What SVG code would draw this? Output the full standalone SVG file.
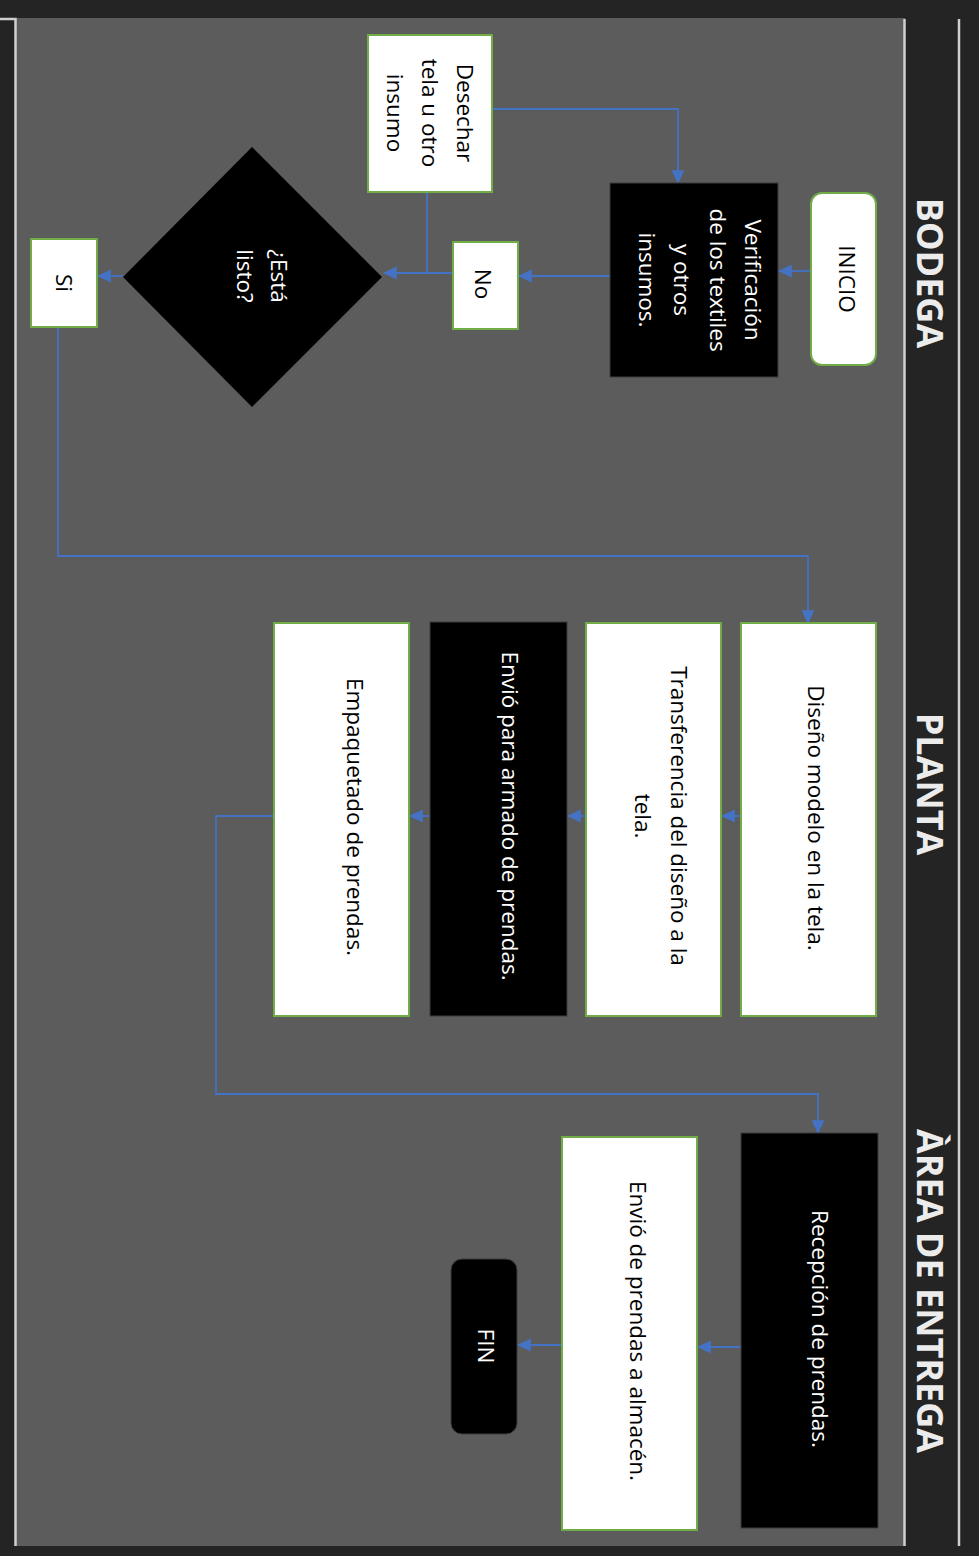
<svg xmlns="http://www.w3.org/2000/svg" width="979" height="1556" viewBox="0 0 979 1556">
<style>
.t{font-family:"Open Sans","Liberation Sans",sans-serif;font-size:22.5px;text-anchor:middle}
.dk{fill:#000}
.lt{fill:#fff}
.hd{font-family:"Open Sans","Liberation Sans",sans-serif;font-size:36px;font-weight:bold;text-anchor:middle;fill:#ececec}
.wbox{fill:#fff;stroke:#70ad47;stroke-width:2}
.bbox{fill:#000;stroke:#3c3c3c;stroke-width:1}
.ln{fill:none;stroke:#4472c4;stroke-width:1.8}
.ar{marker-end:url(#arr)}
.frame{stroke:#cfcfcf;stroke-width:2.5;fill:none}
</style>
<defs>
<marker id="arr" markerUnits="userSpaceOnUse" markerWidth="14" markerHeight="14" viewBox="0 0 12 12" refX="11" refY="6" orient="auto">
<path d="M0,0.5 L12,6 L0,11.5 z" fill="#4472c4"/>
</marker>
</defs>
<g id="background">
<rect x="0" y="0" width="979" height="1556" fill="#242424"/>
<rect x="16" y="18" width="889" height="1528" fill="#5c5c5c"/>
<path class="frame" d="M0,19 H15.5 V1546"/>
<path class="frame" d="M904.5,19 V1546"/>
<path class="frame" d="M959,19 V1546"/>
</g>
<g id="lanes">
<text class="hd" transform="translate(917,273) rotate(90)">BODEGA</text>
<text class="hd" transform="translate(917,784) rotate(90)">PLANTA</text>
<text class="hd" transform="translate(917,1291) rotate(90)">ÀREA DE ENTREGA</text>
</g>
<g id="connectors">
<path class="ln ar" d="M811,271 H779"/>
<path class="ln ar" d="M492,109 H678 V183"/>
<path class="ln ar" d="M610,276 H519"/>
<path class="ln ar" d="M453,273 H384"/>
<path class="ln" d="M427,192 V273"/>
<path class="ln ar" d="M123,276 H98"/>
<path class="ln ar" d="M58,327 V556 H808 V623"/>
<path class="ln ar" d="M741,816 H722"/>
<path class="ln ar" d="M586,816 H568"/>
<path class="ln ar" d="M430,816 H410"/>
<path class="ln ar" d="M274,816 H216 V1094 H818 V1133"/>
<path class="ln ar" d="M741,1347 H698"/>
<path class="ln ar" d="M562,1345 H518"/>
</g>
<g id="inicio">
<rect class="wbox" x="811" y="193" width="65" height="172" rx="11"/>
<text class="t dk" transform="translate(839,279) rotate(90)">INICIO</text>
</g>
<g id="verificacion">
<rect class="bbox" x="610" y="183" width="168" height="194"/>
<text class="t lt" transform="translate(745,280) rotate(90)"><tspan x="0" y="0">Verificación</tspan><tspan x="0" y="35.5">de los textiles</tspan><tspan x="0" y="71">y otros</tspan><tspan x="0" y="106.5">insumos.</tspan></text>
</g>
<g id="desechar">
<rect class="wbox" x="368" y="35" width="124" height="157"/>
<text class="t dk" transform="translate(457,113) rotate(90)"><tspan x="0" y="0">Desechar</tspan><tspan x="0" y="35">tela u otro</tspan><tspan x="0" y="70">insumo</tspan></text>
</g>
<g id="no">
<rect class="wbox" x="453" y="242" width="65" height="87"/>
<text class="t dk" transform="translate(475,284) rotate(90)">No</text>
</g>
<g id="decision">
<polygon points="252,147 382,277 252,407 123,277" fill="#000"/>
<text class="t lt" transform="translate(271,276) rotate(90)"><tspan x="0" y="0">¿Está</tspan><tspan x="0" y="34">listo?</tspan></text>
</g>
<g id="si">
<rect class="wbox" x="31" y="239" width="66" height="88"/>
<text class="t dk" transform="translate(56,283) rotate(90)">Si</text>
</g>
<g id="diseno">
<rect class="wbox" x="741" y="623" width="135" height="393"/>
<text class="t dk" transform="translate(808,818) rotate(90)">Diseño modelo en la tela.</text>
</g>
<g id="transferencia">
<rect class="wbox" x="586" y="623" width="135" height="393"/>
<text class="t dk" transform="translate(671,816) rotate(90)"><tspan x="0" y="0">Transferencia del diseño a la</tspan><tspan x="0" y="36">tela.</tspan></text>
</g>
<g id="envio-armado">
<rect class="bbox" x="430" y="622" width="137" height="394"/>
<text class="t lt" transform="translate(502,816) rotate(90)">Envió para armado de prendas.</text>
</g>
<g id="empaquetado">
<rect class="wbox" x="274" y="623" width="135" height="393"/>
<text class="t dk" transform="translate(347,817) rotate(90)">Empaquetado de prendas.</text>
</g>
<g id="recepcion">
<rect class="bbox" x="741" y="1133" width="137" height="395"/>
<text class="t lt" transform="translate(812,1329) rotate(90)">Recepción de prendas.</text>
</g>
<g id="envio-almacen">
<rect class="wbox" x="562" y="1137" width="135" height="393"/>
<text class="t dk" transform="translate(630,1331) rotate(90)">Envió de prendas a almacén.</text>
</g>
<g id="fin">
<rect class="bbox" x="451" y="1259" width="66" height="175" rx="11"/>
<text class="t lt" transform="translate(478,1346) rotate(90)">FIN</text>
</g>
</svg>
